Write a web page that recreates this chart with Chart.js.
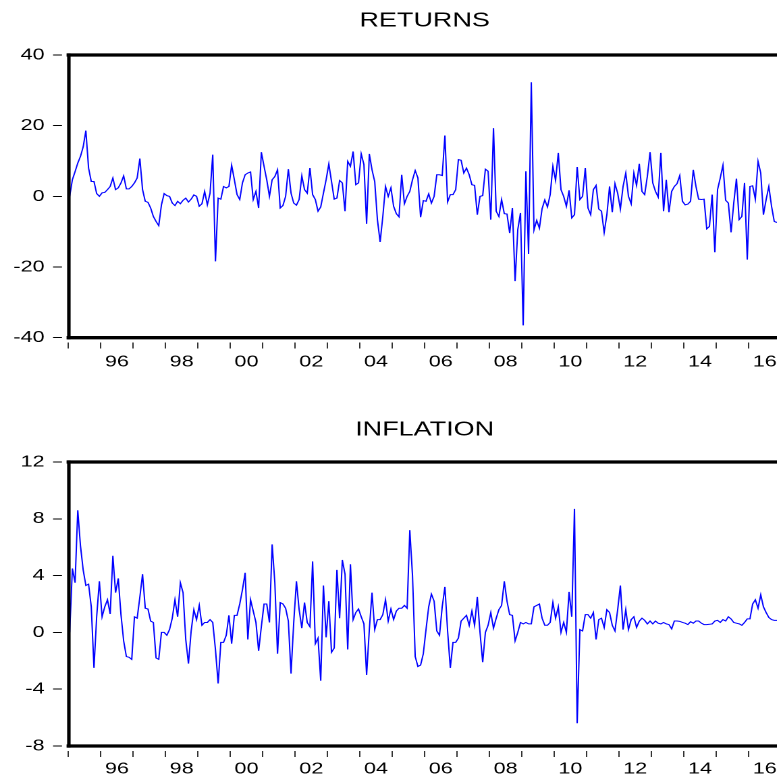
<!DOCTYPE html>
<html>
<head>
<meta charset="utf-8">
<script src="https://cdn.jsdelivr.net/npm/chart.js@4.4.1/dist/chart.umd.min.js"></script>
<style>
  html, body { margin: 0; padding: 0; background: #fff; overflow: hidden; width: 777px; height: 776px; }
  .panel { position: absolute; left: 0; transform: scaleX(1.35); transform-origin: 0 0; }
</style>
</head>
<body>
<div class="panel" style="top:0"><canvas id="ret" width="590" height="388"></canvas></div>
<div class="panel" style="top:407px"><canvas id="inf" width="590" height="369"></canvas></div>
<script>
// monthly series, first observation 1995M01
const START_YEAR = 1995;
const END_YEAR = 2017;

const returns = [
  0, 4.7, 7, 9.4, 11.3, 14, 18.6, 8, 4.2, 4.2,
  0.8, 0, 1, 1.1, 1.9, 2.8, 5.2, 1.9, 2.4, 3.8,
  5.8, 2.1, 2.1, 2.8, 3.8, 5.2, 10.7, 1.9, -1.4, -1.7,
  -3.3, -5.7, -7.1, -8.3, -2.4, 0.8, 0.2, 0, -1.9, -2.6,
  -1.4, -2.1, -1.1, -0.5, -1.6, -0.8, 0.4, 0, -2.8, -2.1,
  1.4, -2.4, 0.9, 11.8, -18.4, -0.5, -0.8, 2.8, 2.4, 2.8,
  8.8, 4.7, 0.5, -0.9, 3.8, 6.1, 6.6, 6.9, -0.9, 1.4,
  -3.3, 12.5, 8.5, 4.7, 0, 4.7, 5.6, 7.5, -3.3, -2.6,
  0, 7.7, 0.9, -1.9, -2.5, -0.9, 5.8, 1.9, 0.9, 8,
  0.5, -0.9, -4.2, -3, 0.9, 4.7, 9.2, 4.2, -0.8, -0.5,
  4.5, 3.8, -4.2, 9.9, 8.5, 12.7, 3.3, 3.8, 12, 9,
  -7.8, 12, 7.5, 4.2, -6.6, -12.9, -5.7, 2.8, 0, 2.4,
  -2.8, -4.9, -5.8, 6.1, -2.1, 0, 1.4, 4.7, 7.3, 5.2,
  -5.9, -1.2, -1.4, 0.7, -1.9, 0, 6.1, 6.1, 5.9, 17.2,
  -1.6, 0.5, 0.5, 1.9, 10.4, 10.2, 6.6, 8, 6.1, 3.3,
  3.1, -5.2, 0, 0.2, 7.7, 7.1, -6.6, 19.3, -4.2, -5.7,
  -0.9, -4.9, -5, -10.4, -3.3, -24, -9.4, -4.7, -36.5, 7.1,
  -16.3, 32.3, -9.5, -6.8, -9, -3.5, -1, -3, 0.5, 8.5,
  4.5, 12.3, 1.9, 0, -2.8, 1.7, -6.1, -5.2, 8.3, -0.9,
  0, 8, -3.3, -5.2, 1.9, 3.1, -3.6, -4.2, -10.2, -5.2,
  2.8, -4.5, 3.6, 0.9, -3.6, 2.8, 6.6, 0, -2.1, 6.6,
  3.1, 9.2, 1.4, 0.5, 5.7, 12.5, 3.8, 1.4, -0.2, 12.3,
  -4.2, 4.7, -4.5, 1.4, 2.8, 3.6, 5.9, -1.4, -2.4, -2.2,
  -1.4, 7.5, 2.8, -0.8, -0.9, -0.8, -9.2, -8.5, 0.5, -15.8,
  1.9, 5.2, 8.8, -1.1, -1.9, -10.2, -1.9, 5, -6.6, -5.7,
  3.8, -17.9, 2.8, 3, -0.8, 9.9, 6.6, -5.2, -0.9, 2.8,
  -2.8, -7.1, -7.4
];

const inflation = [
  0, 4.5, 3.5, 8.6, 6.1, 4.4, 3.3, 3.4, 1.8, -2.5,
  1.1, 3.6, 1.1, 1.8, 2.3, 1.3, 5.4, 2.8, 3.8, 1.25,
  -0.6, -1.7, -1.75, -1.9, 1.1, 1.0, 2.5, 4.1, 1.7, 1.65,
  0.8, 0.7, -1.8, -1.9, 0, 0, -0.2, 0.2, 1.0, 2.3,
  1.1, 3.5, 2.8, -0.5, -2.2, 0.1, 1.6, 0.9, 1.9, 0.5,
  0.7, 0.7, 0.9, 0.7, -1.2, -3.6, -0.7, -0.7, -0.2, 1.2,
  -0.8, 1.2, 1.2, 2.0, 3.0, 4.2, -0.5, 2.3, 1.5, 0.7,
  -1.3, 0.4, 2, 2, 0.7, 6.2, 3.5, -1.5, 2.1, 2,
  1.7, 0.8, -2.9, 0.7, 3.6, 1.6, 0.3, 2.1, 0.7, 0.4,
  5, -0.8, -0.4, -3.4, 3.3, -0.35, 2.2, -1.4, -1.1, 4.4,
  1, 5.1, 4.1, -1.2, 4.8, 0.9, 1.4, 1.65, 1.1, 0.6,
  -3, 0.2, 2.8, 0.2, 0.9, 0.9, 1.25, 2.3, 0.8, 1.65,
  0.9, 1.5, 1.7, 1.7, 1.9, 1.7, 7.2, 4, -1.7, -2.4,
  -2.3, -1.5, 0.2, 1.8, 2.7, 2.2, 0.1, -0.2, 1.8, 3.2,
  0.1, -2.5, -0.7, -0.7, -0.4, 0.8, 1, 1.2, 0.5, 1.5,
  0.5, 2.5, 0, -2.1, 0, 0.5, 1.4, 0.3, 1, 1.6,
  1.9, 3.6, 2.2, 1.25, 1.2, -0.6, 0, 0.7, 0.6, 0.7,
  0.6, 0.6, 1.8, 1.9, 2, 1, 0.5, 0.5, 0.7, 2.1,
  1, 1.8, 0, 0.7, 0, 2.85, 1.1, 8.7, -6.4, 0.2,
  0.1, 1.25, 1.25, 1, 1.4, -0.5, 0.9, 1, 0.35, 1.6,
  1.4, 0.5, 0.1, 1.6, 3.3, 0.2, 1.6, 0.2, 0.9, 1.1,
  0.35, 0.8, 1.0, 0.85, 0.6, 0.8, 0.6, 0.8, 0.65, 0.6,
  0.7, 0.6, 0.55, 0.25, 0.8, 0.8, 0.78, 0.7, 0.65, 0.55,
  0.75, 0.65, 0.8, 0.8, 0.65, 0.55, 0.55, 0.57, 0.6, 0.8,
  0.85, 0.7, 0.9, 0.8, 1.1, 0.95, 0.7, 0.65, 0.6, 0.5,
  0.7, 0.95, 0.95, 2.0, 2.3, 1.7, 2.65, 1.8, 1.4, 1.05,
  0.9, 0.85, 0.85
];

const returnsTicks = [-40, -20, 0, 20, 40];
const inflationTicks = [-8, -4, 0, 4, 8, 12];
const yearLabels = ['96', '98', '00', '02', '04', '06', '08', '10', '12', '14', '16'];

const FONT = '"Liberation Sans", Arial, sans-serif';

// month positions in fractional years (mid-month)
const monthPos = returns.map((_, i) => START_YEAR + (i + 0.5) / 12);

// ticks every half year: marks on year boundaries, labels on mid-years
const halfYears = [];
for (let v = START_YEAR; v <= END_YEAR; v += 0.5) halfYears.push(v);

// thick black box round the plot area
const frame = {
  id: 'frame',
  afterDatasetsDraw(chart) {
    const { ctx, chartArea: a } = chart;
    ctx.save();
    ctx.strokeStyle = '#000';
    ctx.lineWidth = 3.3;
    ctx.beginPath();
    ctx.moveTo(a.left - 1.3, a.top);
    ctx.lineTo(a.right + 1.3, a.top);
    ctx.moveTo(a.left - 1.3, a.bottom);
    ctx.lineTo(a.right + 1.3, a.bottom);
    ctx.stroke();
    ctx.lineWidth = 2.6;
    ctx.beginPath();
    ctx.moveTo(a.left + 0.4, a.top - 1.65);
    ctx.lineTo(a.left + 0.4, a.bottom + 1.65);
    ctx.moveTo(a.right, a.top - 1.65);
    ctx.lineTo(a.right, a.bottom + 1.65);
    ctx.stroke();
    ctx.restore();
  }
};

function makeChart(id, title, values, yTicks, xHeight, titlePad, labelPad) {
  return new Chart(document.getElementById(id), {
    type: 'line',
    data: {
      datasets: [{
        data: values.map((v, i) => ({ x: monthPos[i], y: v })),
        borderColor: '#0000ff',
        borderWidth: 1,
        pointRadius: 0,
        tension: 0,
        fill: false
      }]
    },
    options: {
      responsive: false,
      animation: false,
      devicePixelRatio: 2,
      layout: { padding: { left: 0, right: 11.5, top: 0, bottom: 0 } },
      plugins: {
        legend: { display: false },
        tooltip: { enabled: false },
        title: {
          display: true,
          text: title,
          fullSize: false,
          color: '#000',
          font: { family: FONT, size: 20, weight: 'normal' },
          padding: titlePad
        }
      },
      scales: {
        x: {
          type: 'linear',
          min: START_YEAR,
          max: END_YEAR,
          afterBuildTicks: (s) => { s.ticks = halfYears.map((v) => ({ value: v })); },
          afterFit: (s) => { s.height = xHeight; },
          border: { display: false },
          grid: {
            drawOnChartArea: false,
            tickLength: 11,
            tickWidth: 0.8,
            tickBorderDash: [0, 5, 6, 100],
            tickColor: (c) => (c.tick && c.tick.value % 1 === 0 ? '#000' : 'rgba(0,0,0,0)')
          },
          ticks: {
            autoSkip: false,
            maxRotation: 0,
            padding: labelPad,
            color: '#000',
            font: { family: FONT, size: 16 },
            callback: (v) => {
              if (v % 1 !== 0.5) return '';
              const lbl = String(Math.floor(v) % 100).padStart(2, '0');
              return yearLabels.includes(lbl) ? lbl : '';
            }
          }
        },
        y: {
          min: yTicks[0],
          max: yTicks[yTicks.length - 1],
          afterBuildTicks: (s) => { s.ticks = yTicks.map((v) => ({ value: v })); },
          afterFit: (s) => { s.width = 50.6; },
          border: { display: false },
          grid: {
            drawOnChartArea: false,
            tickLength: 11.3,
            tickWidth: 1,
            tickColor: '#000',
            tickBorderDash: [6.6, 100]
          },
          ticks: {
            padding: 6.3,
            color: '#000',
            font: { family: FONT, size: 16 },
            callback: (v) => String(v)
          }
        }
      }
    },
    plugins: [frame]
  });
}

makeChart('ret', 'RETURNS', returns, returnsTicks, 50.3, { top: 9, bottom: 22 }, 4);
makeChart('inf', 'INFLATION', inflation, inflationTicks, 30, { top: 11, bottom: 20 }, 2.4);
</script>
</body>
</html>
